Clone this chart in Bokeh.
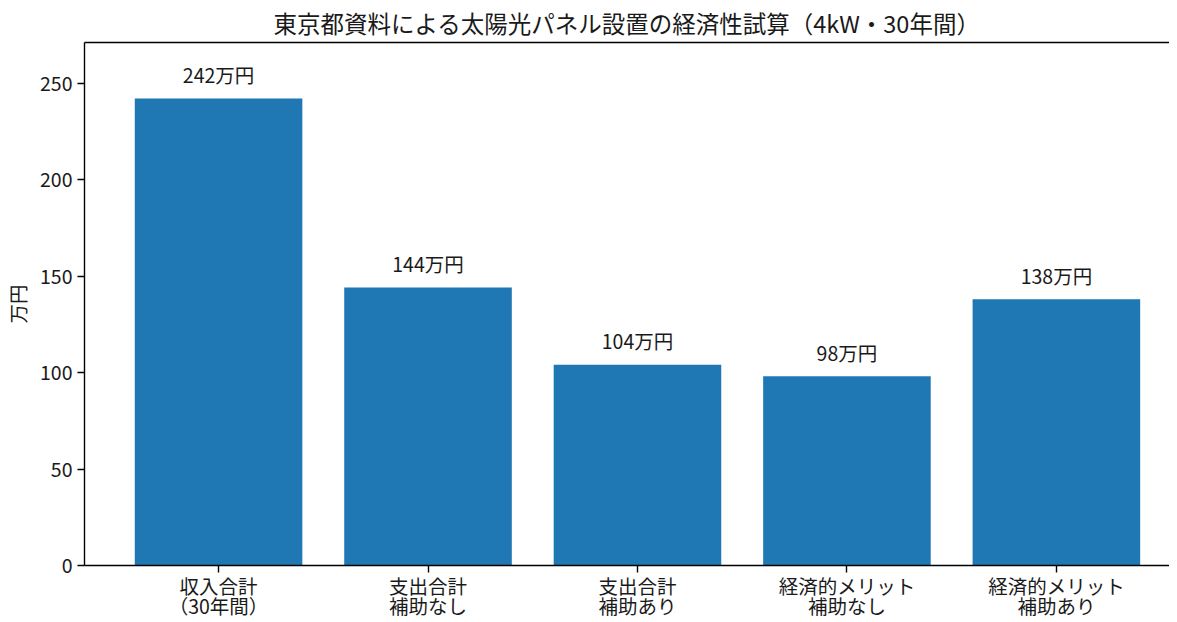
from bokeh.plotting import figure
from bokeh.models import FixedTicker, LinearAxis, Range1d
from bokeh.core.properties import value
from bokeh.embed import file_html
from bokeh.resources import INLINE

categories = ["収入合計\n（30年間）", "支出合計\n補助なし", "支出合計\n補助あり", "経済的メリット\n補助なし", "経済的メリット\n補助あり"]
values = [242, 144, 104, 98, 138]
bar_labels = ["242万円", "144万円", "104万円", "98万円", "138万円"]
y_ticks = [0, 50, 100, 150, 200, 250]

FONT = "Noto Sans CJK JP"
TXT = "#1a1a1a"
FS = "19.5px"

xs = list(range(len(values)))

p = figure(width=1169, height=622, output_backend="svg", toolbar_location=None,
           x_range=Range1d(-0.64, 4.54), y_range=Range1d(0, 271),
           min_border_left=84, min_border_right=0, min_border_top=30, min_border_bottom=0)

p.title.text = "東京都資料による太陽光パネル設置の経済性試算（4kW・30年間）"
p.title.align = "center"
p.title.text_font = FONT
p.title.text_font_size = "23.5px"
p.title.text_font_style = "normal"
p.title.text_color = TXT
p.title.standoff = 6
p.title.offset = 9

p.vbar(x=xs, top=values, width=0.8, bottom=0, color="#1f77b4", line_color=None)

p.text(x=xs, y=[v + 5 for v in values], text=bar_labels, text_align="center",
       text_baseline="bottom", text_font=value(FONT), text_font_size=FS, text_color=TXT)

p.xgrid.visible = False
p.ygrid.visible = False
p.outline_line_color = None

for ax in (p.xaxis[0], p.yaxis[0]):
    ax.axis_line_color = "black"
    ax.axis_line_width = 1.4
    ax.major_tick_line_color = "black"
    ax.major_tick_line_width = 1.4
    ax.major_tick_out = 7
    ax.major_tick_in = 0
    ax.minor_tick_line_color = None
    ax.major_label_text_font = FONT
    ax.major_label_text_font_size = FS
    ax.major_label_text_color = TXT

p.xaxis.ticker = FixedTicker(ticks=xs)
p.xaxis.major_label_overrides = {i: c for i, c in enumerate(categories)}
p.xaxis.major_label_standoff = -2
p.xaxis.major_label_text_line_height = 0.7

p.yaxis.ticker = FixedTicker(ticks=y_ticks)
p.yaxis.axis_label = "万円"
p.yaxis.axis_label_text_font = FONT
p.yaxis.axis_label_text_font_size = FS
p.yaxis.axis_label_text_font_style = "normal"
p.yaxis.axis_label_text_color = TXT
p.yaxis.major_label_standoff = 5

top = LinearAxis(major_tick_line_color=None, minor_tick_line_color=None,
                 major_label_text_font_size="0px", axis_line_color="black",
                 axis_line_width=1.4, ticker=FixedTicker(ticks=[]))
p.add_layout(top, "above")

open("out.html", "w").write(file_html(p, INLINE))
